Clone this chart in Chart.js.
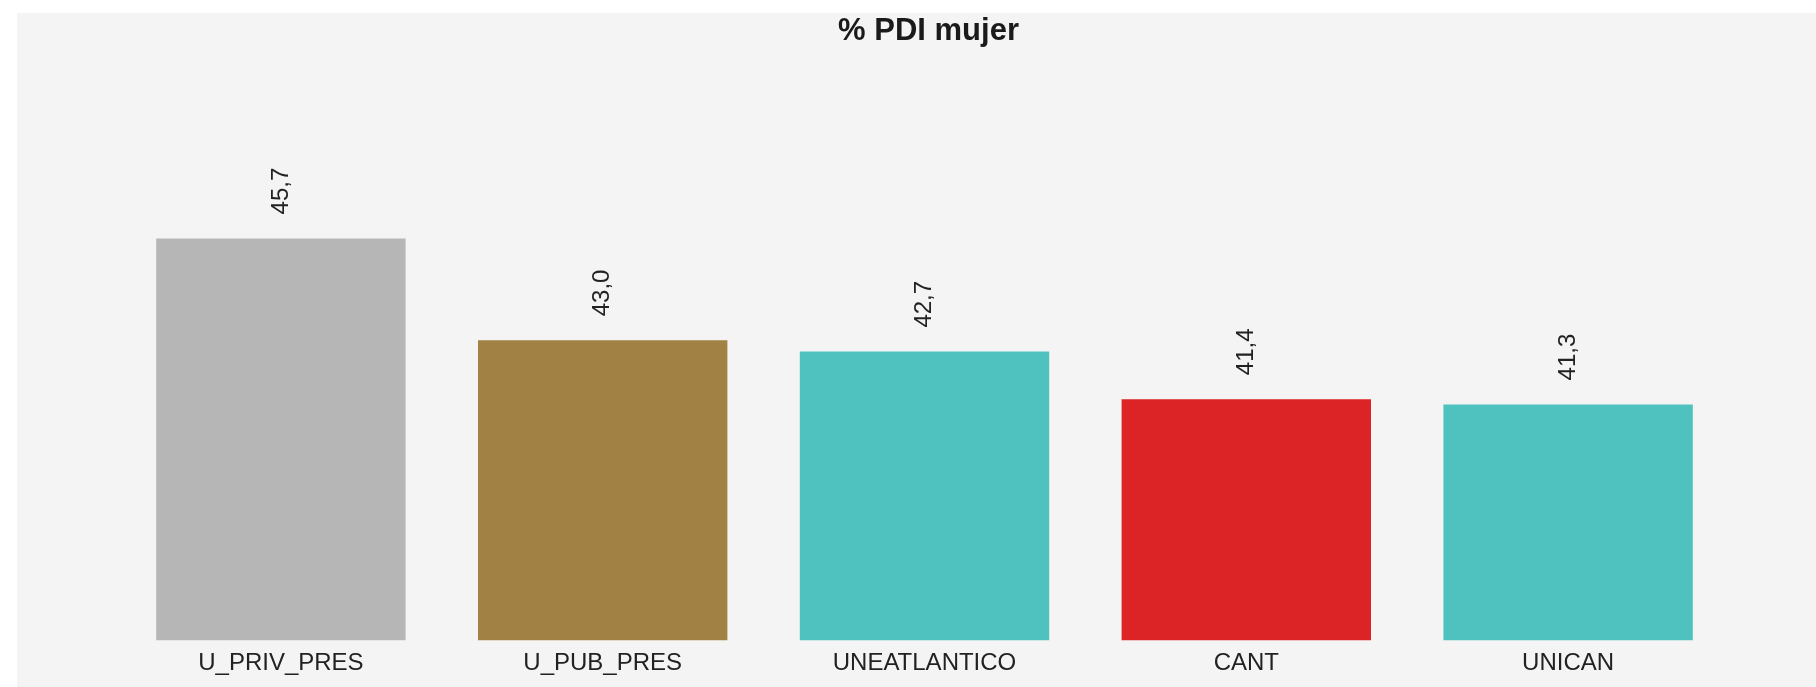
<!DOCTYPE html>
<html>
<head>
<meta charset="utf-8">
<script src="https://cdn.jsdelivr.net/npm/chart.js@4/dist/chart.umd.min.js"></script>
<style>
  html, body { margin: 0; padding: 0; background: #fff; }
  .chart-box {
    position: absolute;
    left: 17px;
    top: 13px;
    width: 1799px;
    height: 674px;
    background: #f4f4f4;
  }
</style>
</head>
<body>
<div class="chart-box"><canvas id="chart"></canvas></div>
<script>
const categories = ['U_PRIV_PRES', 'U_PUB_PRES', 'UNEATLANTICO', 'CANT', 'UNICAN'];
const values = [45.7, 43.0, 42.7, 41.44, 41.3];
const barColors = ['#b6b6b6', '#a28144', '#4fc2bf', '#dc2426', '#4fc2bf'];
const titleText = '% PDI mujer';

const fontFamily = '"Liberation Sans", Arial, Helvetica, sans-serif';

// value labels above the bars, rotated to read bottom-to-top
const valueLabels = {
  id: 'valueLabels',
  afterDatasetsDraw(chart) {
    const ctx = chart.ctx;
    const meta = chart.getDatasetMeta(0);
    ctx.save();
    ctx.font = '24px ' + fontFamily;
    ctx.fillStyle = '#222';
    ctx.textAlign = 'left';
    ctx.textBaseline = 'middle';
    meta.data.forEach((bar, i) => {
      const txt = values[i].toFixed(1).replace('.', ',');
      ctx.save();
      ctx.translate(bar.x, bar.y - 24);
      ctx.rotate(-Math.PI / 2);
      ctx.fillText(txt, 0, 0);
      ctx.restore();
    });
    ctx.restore();
  }
};

const chart = new Chart(document.getElementById('chart'), {
  type: 'bar',
  data: {
    labels: categories,
    datasets: [{
      data: values,
      backgroundColor: barColors,
      borderWidth: 0,
      barPercentage: 0.775,
      categoryPercentage: 1
    }]
  },
  options: {
    responsive: true,
    maintainAspectRatio: false,
    animation: false,
    layout: {
      padding: { left: 103, right: 79, top: 0, bottom: 0 }
    },
    scales: {
      x: {
        grid: { display: false, drawTicks: false },
        border: { display: false },
        ticks: {
          color: '#222',
          font: { family: fontFamily, size: 24 },
          padding: 9,
          maxRotation: 0,
          autoSkip: false
        }
      },
      y: {
        position: 'right',
        min: 35.05,
        max: 50,
        grid: { display: false, drawTicks: false },
        border: { display: false },
        ticks: { display: false },
        afterFit: (scale) => { scale.width = 8; }
      }
    },
    plugins: {
      legend: { display: false },
      tooltip: { enabled: false },
      title: {
        display: true,
        text: titleText,
        color: '#1a1a1a',
        font: { family: fontFamily, size: 31, weight: 'bold' },
        padding: { top: 0, bottom: 26 }
      }
    }
  },
  plugins: [valueLabels]
});
</script>
</body>
</html>
